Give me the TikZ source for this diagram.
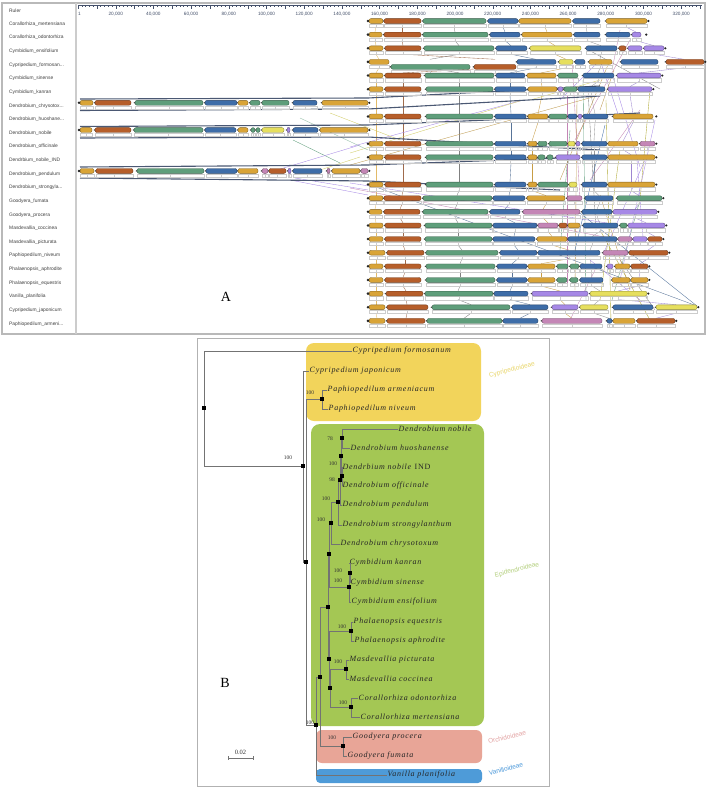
\documentclass[tikz,border=0pt]{standalone}
\usepackage{fontspec}
\setmainfont{Liberation Serif}
\newfontfamily\sansA{Liberation Sans}
\newfontfamily\leafF[LetterSpace=9]{Liberation Serif}
\definecolor{cO}{HTML}{D9A437}
\definecolor{cB}{HTML}{B65E2A}
\definecolor{cG}{HTML}{5F9E7B}
\definecolor{cL}{HTML}{3E6DA8}
\definecolor{cY}{HTML}{E6DF5E}
\definecolor{cP}{HTML}{A688E6}
\definecolor{cK}{HTML}{C486B6}
\definecolor{lcb}{HTML}{4B5873}
\definecolor{rulc}{HTML}{44506A}
\definecolor{subY}{HTML}{F2D45B}
\definecolor{subG}{HTML}{A4C754}
\definecolor{subK}{HTML}{E8A597}
\definecolor{subB}{HTML}{4E9BD8}
\definecolor{tY}{HTML}{E9D66A}
\definecolor{tG}{HTML}{B3CF7C}
\definecolor{tK}{HTML}{E3A3A3}
\definecolor{tB}{HTML}{4A98DA}
\begin{document}
\begin{tikzpicture}[x=1pt,y=-1pt,
  bar/.style={rounded corners=2pt,line width=0.35pt},
  prof/.style={draw=gray!40,line width=0.25pt},
  conn/.style={line width=0.35pt},
  lcbline/.style={draw=lcb,line width=1.1pt},
  lbl/.style={font=\sansA\fontsize{4.9}{5}\selectfont,text=black!75,anchor=west,inner sep=0pt},
  rul/.style={font=\sansA\fontsize{4.7}{5}\selectfont,text=rulc,inner sep=0pt},
  tl/.style={draw=black!55,line width=0.7pt},
  mk/.style={fill=black,minimum size=3.8pt,inner sep=0pt,draw=none,rectangle},
  leaf/.style={font=\leafF\fontsize{8}{9}\selectfont\itshape,anchor=west,inner sep=0.5pt,text=black!85},
  bs/.style={font=\fontsize{5.5}{6}\selectfont,inner sep=0pt,text=black!80},
  sub/.style={font=\sansA\fontsize{6.5}{7}\selectfont,rotate=14,inner sep=0pt},
  panel/.style={font=\fontsize{14}{16}\selectfont,inner sep=0pt}]
\useasboundingbox (0,0) rectangle (708,790);
\fill[white] (0,0) rectangle (708,790);

% ================= Panel A =================
\draw[gray!55,line width=1.2pt] (2,3) rectangle (705,334);
\draw[gray!40,line width=1.5pt] (76,3) -- (76,334);
\node[lbl] (rl) at (9,11) {Ruler};
\foreach \i/\t in {1/{Corallorhiza\_mertensiana},2/{Corallorhiza\_odontorhiza},3/{Cymbidium\_ensifolium},
  4/{Cypripedium\_formosan...},5/{Cymbidium\_sinense},6/{Cymbidium\_kanran},7/{Dendrobium\_chrysotox...},
  8/{Dendrobium\_huoshane...},9/{Dendrobium\_nobile},10/{Dendrobium\_officinale},11/{Dendrbium\_nobile\_IND},
  12/{Dendrobium\_pendulum},13/{Dendrobium\_strongyla...},14/{Goodyera\_fumata},15/{Goodyera\_procera},
  16/{Masdevallia\_coccinea},17/{Masdevallia\_picturata},18/{Paphiopedilum\_niveum},19/{Phalaenopsis\_aphrodite},
  20/{Phalaenopsis\_equestris},21/{Vanilla\_planifolia},22/{Cypripedium\_japonicum},23/{Paphiopedilum\_armeni...}}
  \node[lbl] (l\i) at (9,{24+(\i-1)*13.63}) {\t};

% ruler
\draw[rulc,line width=0.3pt] (78,5) -- (702,5);
\foreach \i in {0,...,165}{
  \pgfmathsetmacro\xx{78+\i*3.77}
  \pgfmathtruncatemacro\mm{mod(\i,5)}
  \ifnum\mm=0 \draw[rulc,line width=0.3pt] (\xx,5)--(\xx,8.5);
  \else \draw[rulc,line width=0.25pt] (\xx,5)--(\xx,6.8);\fi}
\node[rul] (r0) at (79.5,14) {1};
\foreach \v [count=\k] in {20,40,...,320} \node[rul] (r\k) at ({78+\k*37.7},14) {\v,000};

% lane connectors between consecutive rows
\foreach \c/\lane in {
 cO!75/{1/376,2/375,3/376,4/379,5/376,6/376,8/376,10/376,11/376,13/376,14/376,15/375,16/376,17/376,18/376,19/376,20/376,21/376,22/376,23/377},
 cB!60!gray/{1/402,2/402,3/403,4/495,5/403,6/403,8/403,10/403,11/403,13/403,14/402,15/400,16/403,17/403,18/405,19/405,20/403,21/406,22/407,23/406},
 gray/{1/454,2/455,3/459,4/430,5/459,6/459,8/459,10/459,11/459,13/459,14/457,15/455,16/458,17/458,18/462,19/460,20/460,21/458,22/471,23/464},
 cL!60!gray/{1/503,2/505,3/511,4/536,5/510,6/510,8/511,10/511,11/511,13/510,14/509,15/505,16/515,17/514,18/518,19/512,20/512,21/510,22/530,23/520},
 cO!80!gray/{1/545,2/547,3/555,4/566,5/541,6/542,8/538,10/532,11/532,13/532,14/546,15/543,16/548,17/552,18/569,19/541,20/541,21/560,22/565,23/572},
 gray!80/{1/586,2/587,3/601,4/600,5/598,6/591,8/595,10/594,11/594,13/594,14/599,15/597,16/600,17/592,18/590,19/591,20/592,21/600,22/594,23/609},
 cP!80!gray/{1/626,2/636,3/654,4/684,5/639,6/630,8/633,10/623,11/631,13/631,14/639,15/635,16/646,17/655,18/648,19/640,20/639,21/618,22/676,23/656}}{
 \foreach \r/\x [remember=\r as \pr (initially 0), remember=\x as \px (initially 0)] in \lane {
   \ifnum\pr>0 \draw[conn,color=\c] (\px,{21+(\pr-1)*13.63+6}) -- (\x,{21+(\r-1)*13.63-2.6}); \fi}}

% crossing connectors
\foreach \a/\b/\c/\d/\k in {
 567/95/567/285/cK, 577/97/575/290/cO!70!gray, 583/80/586/300/cG, 606/100/611/322/olive!70,
 613/77/640/167/cP, 637/160/643/237/cP, 350/147/523/100/cP, 350/153/523/100/cY!80!gray,
 350/165/600/95/cO!70!gray, 350/183/607/223/cP, 350/188/620/240/cK, 580/213/697/306/cL!70!gray,
 368/184/697/306/cL!60!gray, 330/113/400/140/cY!80!gray, 293/140/340/163/cG, 277/170/360/145/cP,
 320/170/360/157/cY!80!gray, 295/178/368/190/cP, 290/180/368/195/cP, 600/60/620/120/cP,
 585/48/660/89/gray, 614/70/600/110/cO!70!gray, 630/40/575/140/cK, 650/90/640/200/olive!70,
 640/200/612/300/cG, 620/260/655/310/gray, 600/230/650/320/olive!70, 560/100/600/60/cP,
 605/125/575/250/cL, 590/260/640/300/cP, 645/160/605/250/cP, 600/195/630/290/cO!70!gray,
 570/130/560/250/cG, 530/100/600/80/cY!80!gray, 620/30/612/70/cK, 640/110/590/180/cK,
 300/118/368/150/cG!70, 560/180/610/60/cO!70!gray, 595/270/570/320/cK,
 572/60/580/200/cK, 588/90/596/230/gray, 620/150/600/300/olive!70, 655/120/620/280/cP}
 \draw[conn,color=\k] (\a,\b) -- (\c,\d);

% long LCB lines of the shifted rows
\draw[lcbline] (80,99) -- (368,98) -- (600,86);
\draw[lcbline] (80,110.5) -- (368,109) -- (600,96);
\draw[lcbline] (80,126.5) -- (368,125) -- (560,117) -- (640,113);
\draw[lcbline] (80,138) -- (368,137) -- (600,150);
\draw[lcbline] (80,167) -- (368,165) -- (560,158);
\draw[lcbline] (80,178) -- (368,181) -- (560,190);

% bars
\foreach \r/\s/\e/\bl in {
 1/368/647/{369/383/cO/0,384/421/cB/0,423/486/cG/0,488/518/cL/0,519/571/cO/0,573/600/cL/0,606/647/cO/0},
 2/368/645/{369/382/cO/0,384/421/cB/0,423/488/cG/0,490/520/cL/0,522/572/cO/0,574/600/cL/0,606/630/cL/0,632/641/cP/0},
 3/368/664/{369/383/cO/0,385/421/cB/0,424/494/cG/0,496/527/cL/0,530/581/cY/0,586/617/cL/0,619/626/cB/0,628/642/cP/0,644/664/cP/0},
 4/368/704/{369/389/cO/0,391/470/cG/5,474/516/cB/5,517/556/cL/0,559/573/cY/0,575/585/cL/0,589/612/cO/0,621/658/cL/0,666/704/cB/0},
 5/368/661/{369/383/cO/0,385/421/cB/0,425/494/cG/0,496/525/cL/0,527/556/cO/0,558/578/cG/0,583/614/cL/0,617/661/cP/0},
 6/368/652/{369/383/cO/0,385/421/cB/0,426/493/cG/0,495/526/cL/0,528/557/cO/0,558/563/cP/0,564/577/cG/0,578/605/cL/0,608/652/cP/0},
 7/79/368/{80/93/cO/0,95/131/cB/0,135/203/cG/0,205/237/cL/0,238/248/cO/0,250/260/cG/0,262/289/cG/0,293/317/cL/0,322/368/cO/0},
 8/368/655/{369/383/cO/0,385/421/cB/0,426/493/cG/0,495/526/cL/0,528/548/cO/0,549/567/cG/0,568/577/cL/0,578/582/cP/0,583/608/cL/0,613/653/cO/0},
 9/79/368/{80/92/cO/0,95/131/cB/0,134/203/cG/0,205/236/cL/0,238/248/cO/0,251/255/cG/0,256/260/cG/0,262/284/cY/0,287/290/cP/0,293/318/cL/0,320/368/cO/0},
 10/368/655/{369/383/cO/0,385/421/cB/0,426/493/cG/0,495/526/cL/0,528/537/cO/0,538/547/cG/0,549/567/cG/0,568/575/cY/0,576/580/cP/0,582/607/cL/0,608/638/cO/0,640/655/cK/0},
 11/368/655/{369/383/cO/0,385/421/cB/0,426/493/cG/0,495/526/cL/0,528/537/cO/0,538/545/cG/0,547/553/cG/0,556/580/cP/0,582/607/cL/0,608/655/cO/0},
 12/79/368/{80/94/cO/0,96/133/cB/0,137/204/cG/0,206/237/cL/0,238/258/cO/0,262/268/cK/0,269/286/cB/0,288/291/cP/0,293/322/cL/0,327/330/cK/0,332/360/cO/0,361/368/cK/0},
 13/368/655/{369/383/cO/0,385/421/cB/0,426/493/cG/0,495/526/cL/0,528/537/cO/0,538/568/cG/0,569/577/cY/0,582/607/cL/0,608/655/cO/0},
 14/368/662/{369/383/cO/0,384/421/cB/0,423/492/cG/0,493/525/cL/0,527/565/cO/0,567/582/cK/0,585/613/cL/0,617/662/cG/0},
 15/368/657/{369/382/cO/0,384/420/cB/0,423/488/cG/0,490/520/cL/0,523/580/cK/0,582/612/cL/0,613/657/cP/0},
 16/368/665/{369/383/cO/0,385/421/cB/0,425/492/cG/0,493/537/cL/0,538/558/cK/0,559/567/cB/0,568/580/cO/0,583/618/cL/0,620/627/cG/0,628/665/cP/0},
 17/368/662/{369/383/cO/0,385/421/cB/0,425/492/cG/0,493/535/cL/0,537/567/cO/0,568/617/cL/0,618/632/cK/0,633/647/cP/0,648/662/cB/0},
 18/368/668/{369/385/cO/0,387/424/cB/0,426/498/cG/0,500/537/cL/0,538/600/cL/0,603/628/cK/0,629/668/cB/0},
 19/368/648/{369/383/cO/0,385/421/cB/0,426/495/cG/0,497/527/cL/0,528/555/cO/0,557/568/cG/0,570/579/cG/0,580/602/cL/0,607/613/cP/0,615/630/cO/0,631/648/cB/0},
 20/368/648/{369/383/cO/0,385/421/cB/0,426/495/cG/0,497/527/cL/0,528/555/cO/0,557/567/cG/0,570/578/cG/0,580/603/cL/0,612/630/cO/0,631/648/cO/0},
 21/368/647/{369/383/cO/0,386/423/cB/0,425/493/cG/0,494/528/cL/0,532/588/cP/0,590/647/cY/0},
 22/368/697/{369/385/cO/0,387/428/cB/0,432/510/cG/0,512/548/cL/0,552/578/cP/0,580/608/cY/0,613/653/cL/0,656/697/cY/0},
 23/368/675/{369/385/cO/0,387/425/cB/0,427/502/cG/0,503/538/cL/0,542/602/cK/0,607/612/cL/0,613/635/cO/0,637/675/cB/0}}{
 \pgfmathsetmacro\yy{21+(\r-1)*13.63}
 \foreach \a/\b/\c/\d in \bl {
   \pgfmathsetmacro\mx{(\a+\b)/2}
   \draw[prof] (\a,\yy+\d+3) rectangle (\b,\yy+\d+6.2);
   \draw[prof] (\mx,\yy+\d+3) -- (\mx,\yy+\d+6.2);
   \draw[bar,fill=\c,draw=\c!60!black] (\a,\yy+\d-2.4) rectangle (\b,\yy+\d+2.4);
   \fill[black!75] (\a-0.6,\yy+\d) circle (0.8);}
 \fill[black!85] (\s,\yy) circle (1.4);
 \fill[black!85] (\e+1.3,\yy) circle (1.2);}

\node[panel] (labA) at (226,297) {A};

% ================= Panel B =================
\draw[gray!60,line width=0.8pt] (197,338) rectangle (549,786);
\fill[subY,rounded corners=8pt] (306,343) rectangle (481,421);
\fill[subG,rounded corners=9pt] (311,424) rectangle (484,726);
\fill[subK,rounded corners=6pt] (316,730) rectangle (482,763);
\fill[subB,rounded corners=4pt] (316,769) rectangle (482,783);
\node[sub,text=tY] (sY) at (512,370) {Cypripedioideae};
\node[sub,text=tG] (sG) at (517,570) {Epidendroideae};
\node[sub,text=tK] (sK) at (507,737) {Orchidoideae};
\node[sub,text=tB] (sB) at (506,769) {Vanilloideae};

% internal nodes
\coordinate (R) at (204,408);
\coordinate (N1) at (303,466);
\coordinate (N2) at (306,562);
\coordinate (P) at (322,399);
\coordinate (N3) at (316,725);
\coordinate (N4) at (320,677);
\coordinate (G) at (343,746);
\coordinate (N5) at (328,607);
\coordinate (N7) at (329,554);
\coordinate (N8) at (329,659);
\coordinate (Ph) at (351,631);
\coordinate (N9) at (330,688);
\coordinate (Ma) at (346,669);
\coordinate (Co) at (351,707);
\coordinate (Dn) at (331,523);
\coordinate (N10) at (338,502);
\coordinate (N11) at (340,480);
\coordinate (N12) at (341,456);
\coordinate (D1) at (342,438);
\coordinate (D2) at (342,476);
\coordinate (Cy) at (349,587);
\coordinate (Ck) at (350,573);

% leaves
\node[leaf] (formosanum) at (352,351) {Cypripedium formosanum};
\node[leaf] (japonicum) at (309,371) {Cypripedium japonicum};
\node[leaf] (armeniacum) at (327,390) {Paphiopedilum armeniacum};
\node[leaf] (niveum) at (328,409) {Paphiopedilum niveum};
\node[leaf] (nobile) at (398,429) {Dendrobium nobile};
\node[leaf] (huoshanense) at (350,448) {Dendrobium huoshanense};
\node[leaf] (IND) at (342,467) {Dendrbium nobile \textup{IND}};
\node[leaf] (officinale) at (342,486) {Dendrobium officinale};
\node[leaf] (pendulum) at (342,505) {Dendrobium pendulum};
\node[leaf] (strongylanthum) at (342,525) {Dendrobium strongylanthum};
\node[leaf] (chrysotoxum) at (340,544) {Dendrobium chrysotoxum};
\node[leaf] (kanran) at (349,563) {Cymbidium kanran};
\node[leaf] (sinense) at (350,583) {Cymbidium sinense};
\node[leaf] (ensifolium) at (351,602) {Cymbidium ensifolium};
\node[leaf] (equestris) at (353,622) {Phalaenopsis equestris};
\node[leaf] (aphrodite) at (354,641) {Phalaenopsis aphrodite};
\node[leaf] (picturata) at (349,660) {Masdevallia picturata};
\node[leaf] (coccinea) at (349,679) {Masdevallia coccinea};
\node[leaf] (odontorhiza) at (358,698) {Corallorhiza odontorhiza};
\node[leaf] (mertensiana) at (360,717) {Corallorhiza mertensiana};
\node[leaf] (procera) at (352,737) {Goodyera procera};
\node[leaf] (fumata) at (347,756) {Goodyera fumata};
\node[leaf] (vanilla) at (387,775) {Vanilla planifolia};

% branches
\draw[tl] (R) |- (formosanum.west);
\draw[tl] (R) |- (N1);
\draw[tl] (N1) |- (japonicum.west);
\draw[tl] (N1) |- (N2);
\draw[tl] (N2) |- (P);
\draw[tl] (N2) |- (N3);
\draw[tl] (P) |- (armeniacum.west);
\draw[tl] (P) |- (niveum.west);
\draw[tl] (N3) |- (N4);
\draw[tl] (N3) |- (vanilla.west);
\draw[tl] (N4) |- (N5);
\draw[tl] (N4) |- (G);
\draw[tl] (G) |- (procera.west);
\draw[tl] (G) |- (fumata.west);
\draw[tl] (N5) |- (N7);
\draw[tl] (N5) |- (N8);
\draw[tl] (N7) |- (Dn);
\draw[tl] (N7) |- (Cy);
\draw[tl] (Dn) |- (N10);
\draw[tl] (Dn) |- (chrysotoxum.west);
\draw[tl] (N10) |- (N11);
\draw[tl] (N10) |- (strongylanthum.west);
\draw[tl] (N11) |- (N12);
\draw[tl] (N11) |- (pendulum.west);
\draw[tl] (N12) |- (D1);
\draw[tl] (N12) |- (D2);
\draw[tl] (D1) |- (nobile.west);
\draw[tl] (D1) |- (huoshanense.west);
\draw[tl] (D2) |- (IND.west);
\draw[tl] (D2) |- (officinale.west);
\draw[tl] (Cy) |- (Ck);
\draw[tl] (Cy) |- (ensifolium.west);
\draw[tl] (Ck) |- (kanran.west);
\draw[tl] (Ck) |- (sinense.west);
\draw[tl] (N8) |- (Ph);
\draw[tl] (N8) |- (N9);
\draw[tl] (Ph) |- (equestris.west);
\draw[tl] (Ph) |- (aphrodite.west);
\draw[tl] (N9) |- (Ma);
\draw[tl] (N9) |- (Co);
\draw[tl] (Ma) |- (picturata.west);
\draw[tl] (Ma) |- (coccinea.west);
\draw[tl] (Co) |- (odontorhiza.west);
\draw[tl] (Co) |- (mertensiana.west);

% node markers
\foreach \n in {R,N1,N2,P,N3,N4,G,N5,N7,N8,Ph,N9,Ma,Co,Dn,N10,N11,N12,D1,D2,Cy,Ck}
  \node[mk] (m\n) at (\n) {};

% bootstrap values
\node[bs] (b1) at (288,458) {100};
\node[bs] (b2) at (310,393) {100};
\node[bs] (b3) at (330,439) {78};
\node[bs] (b4) at (333,464) {100};
\node[bs] (b5) at (332,480) {98};
\node[bs] (b6) at (326,499) {100};
\node[bs] (b7) at (321,520) {100};
\node[bs] (b8) at (338,571) {100};
\node[bs] (b9) at (338,581) {100};
\node[bs] (b10) at (342,627) {100};
\node[bs] (b11) at (338,662) {100};
\node[bs] (b12) at (343,703) {100};
\node[bs] (b13) at (310,723) {100};
\node[bs] (b14) at (332,738) {100};

% scale bar
\coordinate (sb1) at (228,758);
\coordinate (sb2) at (253,758);
\draw[tl] (sb1) -- (sb2);
\draw[tl] (sb1) ++(0,-2) -- ++(0,4);
\draw[tl] (sb2) ++(0,-2) -- ++(0,4);
\node[font=\fontsize{6.5}{7}\selectfont,inner sep=0pt,text=black!80] (sbl) at (240.5,752.5) {0.02};

\node[panel] (labB) at (225,683) {B};
\end{tikzpicture}
\end{document}
